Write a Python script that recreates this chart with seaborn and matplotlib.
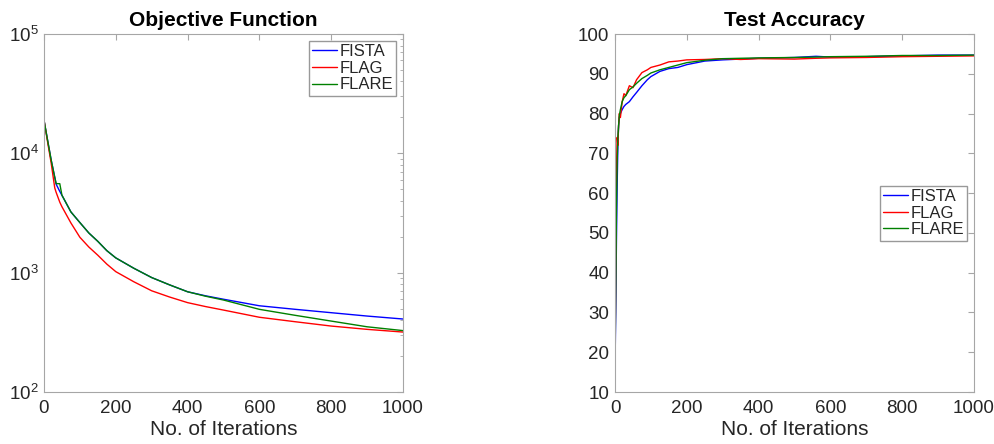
import numpy as np
import pandas as pd
import matplotlib
matplotlib.use("Agg")
import matplotlib.pyplot as plt
import seaborn as sns
from matplotlib.ticker import LogLocator, NullFormatter

# Valores
obj_iters = [0, 10, 20, 30, 34, 44, 50, 75, 100, 125, 150, 175, 200, 250, 300, 350, 400, 450, 500, 600, 700, 800, 900, 1000]
obj_fista = [19000, 12900, 8800, 6300, 5500, 4800, 4450, 3230, 2630, 2150, 1830, 1530, 1330, 1090, 910, 790, 692, 640, 599, 528, 493, 462, 433, 409]
obj_flag = [19000, 12500, 8300, 5130, 4700, 3900, 3570, 2610, 1980, 1640, 1400, 1180, 1020, 840, 705, 625, 561, 520, 486, 423, 388, 357, 335, 318]
obj_flare = [19000, 12900, 8800, 6300, 5570, 5570, 4460, 3230, 2630, 2150, 1830, 1530, 1330, 1090, 910, 790, 692, 635, 590, 493, 439, 393, 352, 327]

acc_iters = [0, 2, 4, 6, 8, 10, 12, 15, 20, 25, 30, 40, 50, 60, 75, 90, 100, 125, 150, 175, 200,
             250, 300, 350, 400, 500, 560, 600, 700, 800, 900, 1000]
acc_fista = [16, 30, 48, 62, 72, 77, 79, 80, 81, 81.8, 82.3, 83, 84.2, 85.3, 87, 88.5, 89.3, 90.6, 91.3, 91.6, 92.3,
             93.2, 93.5, 93.7, 93.9, 94.1, 94.4, 94.2, 94.3, 94.5, 94.7, 94.7]
acc_flag = [16, 42, 66, 74, 72, 77, 80, 79, 83, 85, 84.5, 87, 86.5, 88.5, 90.3, 91, 91.6, 92.2, 93, 93.2, 93.5,
            93.6, 93.8, 93.6, 93.8, 93.7, 93.9, 94, 94.1, 94.3, 94.4, 94.5]
acc_flare = [16, 36, 56, 68, 74, 77, 79.5, 81, 83, 84, 84.5, 86, 86.7, 87.6, 88.8, 89.6, 90.2, 91, 91.6, 92.2, 92.8,
             93.4, 93.8, 93.9, 94, 94.1, 94.2, 94.3, 94.4, 94.6, 94.6, 94.7]

methods = ["FISTA", "FLAG", "FLARE"]
cores = {"FISTA": (0, 0, 1), "FLAG": (1, 0, 0), "FLARE": (0, 0.5, 0)}

sns.set_style("white")
plt.rcParams["font.family"] = ["Liberation Sans", "DejaVu Sans"]
plt.rcParams["mathtext.fontset"] = "custom"
plt.rcParams["mathtext.rm"] = "Liberation Sans"
plt.rcParams["mathtext.it"] = "Liberation Sans:italic"

fig = plt.figure(figsize=(9.95, 4.44), dpi=100)
ax1 = fig.add_axes([0.0442, 0.1171, 0.3608, 0.8063])
ax2 = fig.add_axes([0.6181, 0.1171, 0.3608, 0.8063])

leg_kw = dict(fontsize=12, fancybox=False, framealpha=1, edgecolor="#999999",
              handlelength=1.5, handletextpad=0.15, borderpad=0.2, labelspacing=0.1)

# Função objetivo
for nome, vals in zip(methods, [obj_fista, obj_flag, obj_flare]):
    sns.lineplot(x=obj_iters, y=vals, ax=ax1, color=cores[nome], label=nome, lw=1.0)
ax1.set_yscale("log")
ax1.set_ylim(1e2, 1e5)
ax1.yaxis.set_major_locator(LogLocator(base=10, numticks=10))
ax1.yaxis.set_minor_locator(LogLocator(base=10, subs=np.arange(2, 10), numticks=20))
ax1.yaxis.set_minor_formatter(NullFormatter())
ax1.set_title("Objective Function", fontsize=15, fontweight="bold", color="black", pad=6)
ax1.legend(loc="upper right", borderaxespad=0.4, **leg_kw)

# Acurácia no teste
for nome, vals in zip(methods, [acc_fista, acc_flag, acc_flare]):
    sns.lineplot(x=acc_iters, y=vals, ax=ax2, color=cores[nome], label=nome, lw=1.0)
ax2.set_ylim(10, 100)
ax2.set_yticks(np.arange(10, 101, 10))
ax2.set_title("Test Accuracy", fontsize=15, fontweight="bold", color="black", pad=6)
ax2.legend(loc="center right", borderaxespad=0.4, **leg_kw)

for ax in [ax1, ax2]:
    ax.set_xlim(0, 1000)
    ax.set_xticks(np.arange(0, 1001, 200))
    ax.set_xlabel("No. of Iterations", fontsize=15, color="#262626", labelpad=2)
    ax.set_ylabel("")
    for s in ax.spines.values():
        s.set_color("#a6a6a6")
        s.set_linewidth(0.8)
    ax.tick_params(which="both", direction="in", top=True, right=True, color="#a6a6a6",
                   labelsize=13.5, labelcolor="#262626", pad=4)
    ax.tick_params(axis="x", which="major", pad=6)
    ax.tick_params(which="major", length=4)
    ax.tick_params(which="minor", length=2.5)

fig.savefig("out.png", dpi=100)
